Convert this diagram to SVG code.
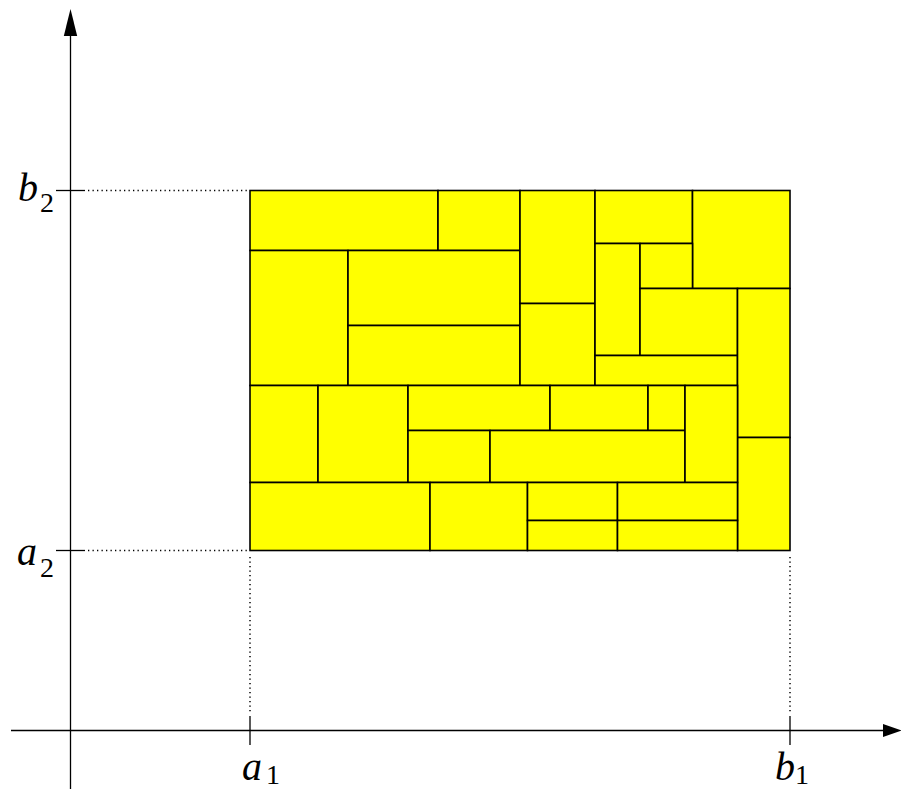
<svg xmlns="http://www.w3.org/2000/svg" width="901" height="791" viewBox="0 0 901 791">
<style>
.c rect{fill:#ffff00;stroke:#000;stroke-width:1.6}
.ax{stroke:#000;stroke-width:1.3;fill:none}
.dot{stroke:#000;stroke-width:1.5;stroke-dasharray:1.3 3.2;fill:none}
.lab{font-family:"Liberation Serif","DejaVu Serif",serif;font-size:40px;font-style:italic;fill:#000}
.sub{font-family:"Liberation Serif","DejaVu Serif",serif;font-size:28px;fill:#000}
</style>
<rect width="901" height="791" fill="#fff"/>
<g id="cells" class="c">
<g id="r1"><rect x="250" y="190.5" width="188" height="60"/></g>
<g id="r2"><rect x="438" y="190.5" width="82" height="60"/></g>
<g id="r3"><rect x="250" y="250.5" width="98" height="135"/></g>
<g id="r4"><rect x="348" y="250.5" width="172" height="75"/></g>
<g id="r5"><rect x="348" y="325.5" width="172" height="60"/></g>
<g id="r6"><rect x="520" y="190.5" width="75" height="113"/></g>
<g id="r7"><rect x="520" y="303.5" width="75" height="82"/></g>
<g id="r8"><rect x="595" y="190.5" width="97.5" height="53"/></g>
<g id="r9"><rect x="692.5" y="190.5" width="97.5" height="98"/></g>
<g id="r10"><rect x="595" y="243.5" width="45" height="112"/></g>
<g id="r11"><rect x="640" y="243.5" width="52.5" height="45"/></g>
<g id="r12"><rect x="640" y="288.5" width="97.5" height="67"/></g>
<g id="r13"><rect x="595" y="355.5" width="142.5" height="30"/></g>
<g id="r14"><rect x="737.5" y="288.5" width="52.5" height="149"/></g>
<g id="r15"><rect x="737.5" y="437.5" width="52.5" height="113"/></g>
<g id="r16"><rect x="250" y="385.5" width="68" height="97"/></g>
<g id="r17"><rect x="318" y="385.5" width="90" height="97"/></g>
<g id="r18"><rect x="408" y="385.5" width="142" height="45"/></g>
<g id="r19"><rect x="550" y="385.5" width="98" height="45"/></g>
<g id="r20"><rect x="648" y="385.5" width="37" height="45"/></g>
<g id="r21"><rect x="408" y="430.5" width="82" height="52"/></g>
<g id="r22"><rect x="490" y="430.5" width="195" height="52"/></g>
<g id="r23"><rect x="685" y="385.5" width="52.5" height="97"/></g>
<g id="r24"><rect x="250" y="482.5" width="180" height="68"/></g>
<g id="r25"><rect x="430" y="482.5" width="97.5" height="68"/></g>
<g id="r26"><rect x="527.5" y="482.5" width="90" height="38"/></g>
<g id="r27"><rect x="617.5" y="482.5" width="120" height="38"/></g>
<g id="r28"><rect x="527.5" y="520.5" width="90" height="30"/></g>
<g id="r29"><rect x="617.5" y="520.5" width="120" height="30"/></g>
</g>
<g id="connectors">
<line class="ax" x1="70.5" y1="789" x2="70.5" y2="34"/>
<polygon points="70.5,9 63.8,36 77.2,36" fill="#000"/>
<line class="ax" x1="11" y1="730.5" x2="885" y2="730.5"/>
<polygon points="902,730.5 883,724 883,737" fill="#000"/>
<line class="ax" x1="56" y1="190.5" x2="85" y2="190.5"/>
<line class="ax" x1="56" y1="550.5" x2="85" y2="550.5"/>
<line class="ax" x1="250" y1="716" x2="250" y2="745"/>
<line class="ax" x1="790" y1="716" x2="790" y2="745"/>
<line class="dot" x1="88" y1="190.5" x2="249" y2="190.5"/>
<line class="dot" x1="88" y1="550.5" x2="249" y2="550.5"/>
<line class="dot" x1="250" y1="557" x2="250" y2="714"/>
<line class="dot" x1="790" y1="557" x2="790" y2="714"/>
</g>
<g id="labels">
<text class="lab" x="242" y="780">a</text><text class="sub" x="266" y="784">1</text>
<text class="lab" x="775" y="780">b</text><text class="sub" x="795" y="784">1</text>
<text class="lab" x="17" y="565">a</text><text class="sub" x="40" y="577">2</text>
<text class="lab" x="18" y="201">b</text><text class="sub" x="40" y="212">2</text>
</g>
</svg>
